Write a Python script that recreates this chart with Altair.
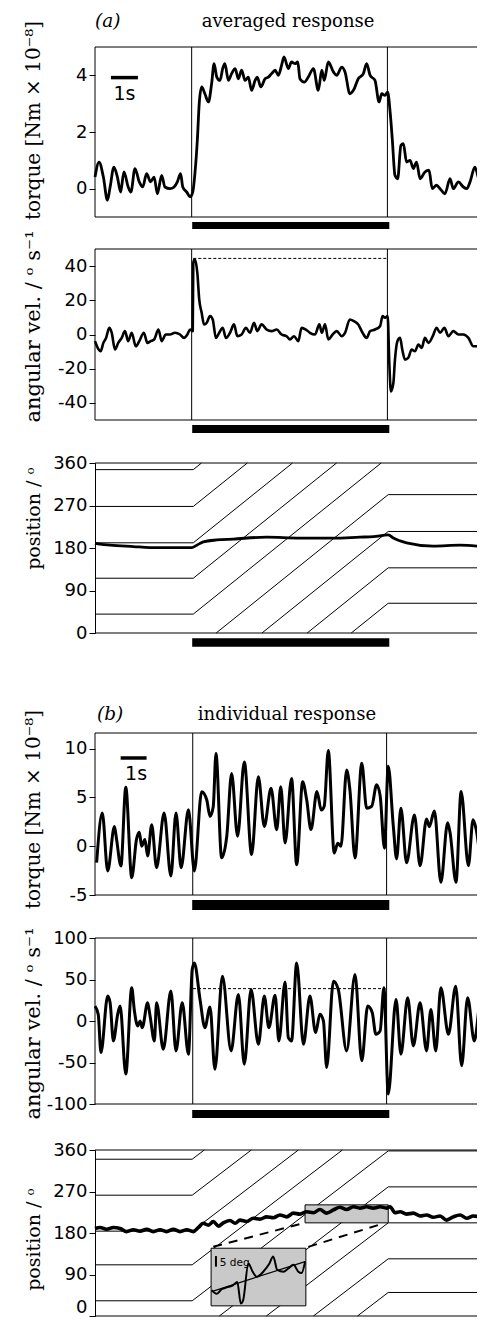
import altair as alt
import pandas as pd

# ---------------- data ----------------
# time in seconds (1 s scale bar), values in panel units
A_STIM = [3.58, 10.83]          # stimulus on / off (vertical lines), panel (a)
B_STIM = [3.62, 10.80]          # panel (b)
STIM_BAR = [3.60, 10.90]        # black bar under each panel

A_TORQUE = [
    (0.00, 0.41), (0.15, 0.94), (0.31, 0.41), (0.46, -0.41), (0.56, 0.06), (0.70, 0.76),
    (0.83, 0.41), (0.95, -0.12), (1.07, 0.59), (1.23, 0.06), (1.33, -0.12), (1.48, 0.71),
    (1.64, 0.24), (1.77, 0.06), (1.91, 0.53), (2.06, 0.24), (2.19, 0.41), (2.31, -0.18),
    (2.47, 0.47), (2.59, 0.06), (2.78, 0.00), (2.93, 0.06), (3.05, 0.24), (3.17, 0.53),
    (3.25, 0.06), (3.40, -0.12), (3.52, -0.29), (3.62, -0.12), (3.70, 0.53), (3.79, 1.71),
    (3.86, 3.00), (3.95, 3.59), (4.07, 3.35), (4.20, 3.06), (4.32, 3.71), (4.41, 4.41),
    (4.51, 3.94), (4.63, 3.82), (4.73, 4.24), (4.81, 4.41), (4.94, 3.82), (5.06, 4.06),
    (5.19, 4.24), (5.31, 3.88), (5.43, 4.18), (5.56, 3.82), (5.68, 3.94), (5.80, 3.47),
    (5.93, 3.82), (6.01, 3.94), (6.14, 3.59), (6.30, 3.88), (6.42, 3.94), (6.54, 4.06),
    (6.67, 4.18), (6.79, 4.00), (6.91, 4.35), (7.00, 4.65), (7.16, 4.24), (7.28, 4.47),
    (7.41, 4.41), (7.51, 4.47), (7.59, 3.88), (7.75, 3.76), (7.90, 3.94), (8.09, 4.24),
    (8.27, 3.47), (8.40, 4.18), (8.49, 3.82), (8.64, 4.47), (8.83, 4.12), (8.95, 4.00),
    (9.14, 4.29), (9.26, 4.12), (9.44, 3.35), (9.57, 3.47), (9.75, 3.88), (9.94, 4.06),
    (10.06, 4.41), (10.19, 4.00), (10.37, 3.82), (10.52, 3.06), (10.62, 3.35), (10.74, 3.29),
    (10.84, 3.41), (10.93, 2.71), (11.01, 1.76), (11.11, 0.47), (11.21, 0.35), (11.33, 1.53),
    (11.42, 1.59), (11.54, 0.94), (11.67, 1.00), (11.79, 0.71), (11.91, 0.94), (12.04, 0.35),
    (12.22, 0.59), (12.37, 0.65), (12.49, 0.00), (12.65, 0.12), (12.78, 0.00), (12.96, -0.18),
    (13.15, 0.35), (13.27, 0.00), (13.46, 0.24), (13.64, 0.06), (13.77, 0.00), (13.89, 0.24),
    (14.07, 0.76), (14.26, 0.24), (14.40, 0.35),
]

A_VEL = [
    (0.00, -3.9), (0.10, -7.8), (0.21, -9.8), (0.31, -4.9), (0.41, -2.0), (0.53, 3.9),
    (0.62, 1.0), (0.74, -8.8), (0.86, -4.9), (0.99, -2.0), (1.11, 2.0), (1.23, -3.9),
    (1.36, 1.0), (1.51, -6.9), (1.64, -3.9), (1.81, 1.0), (1.94, -4.9), (2.06, -3.9),
    (2.19, -2.9), (2.35, 2.9), (2.47, -3.9), (2.62, 0.0), (2.78, 0.0), (2.96, 1.0),
    (3.15, 0.0), (3.30, -2.0), (3.42, 0.0), (3.52, 2.9), (3.62, 2.0), (3.64, 42.0),
    (3.70, 44.0), (3.79, 36.0), (3.86, 20.6), (3.95, 12.7), (4.04, 5.9), (4.14, 6.9),
    (4.26, 10.8), (4.36, 8.8), (4.48, -2.0), (4.60, 1.0), (4.73, 3.9), (4.85, -2.0),
    (5.00, 1.0), (5.15, 5.9), (5.27, -1.0), (5.43, 0.0), (5.59, 3.9), (5.74, 1.0),
    (5.89, 6.9), (6.01, 2.0), (6.17, 5.9), (6.36, 2.9), (6.54, 2.0), (6.73, 2.9),
    (6.91, 0.0), (7.10, -1.0), (7.22, -2.9), (7.37, -1.0), (7.53, -3.9), (7.65, 3.9),
    (7.81, 2.9), (7.96, 1.0), (8.15, 0.0), (8.31, 5.9), (8.40, 1.0), (8.52, 5.9),
    (8.64, -2.9), (8.80, 0.0), (8.95, 2.0), (9.14, -1.0), (9.26, 1.0), (9.44, 8.8),
    (9.59, 7.8), (9.75, 5.9), (9.91, 1.0), (10.06, -2.0), (10.19, 2.0), (10.37, 2.9),
    (10.56, 4.9), (10.65, 10.8), (10.74, 9.8), (10.84, 10.8), (10.90, -16.7), (10.96, -33.3),
    (11.05, -28.4), (11.11, -14.7), (11.20, -3.9), (11.30, -2.0), (11.38, -8.8), (11.48, -14.7),
    (11.60, -13.7), (11.73, -8.8), (11.85, -9.8), (11.98, -5.9), (12.10, -7.8), (12.22, -2.0),
    (12.35, -4.9), (12.51, -1.0), (12.65, 3.9), (12.78, 1.0), (12.94, 3.9), (13.09, -1.0),
    (13.27, 2.0), (13.46, 0.0), (13.64, 0.0), (13.83, -2.0), (14.01, -6.9), (14.20, -6.9),
    (14.38, -1.0),
]
A_VEL_DASH = (3.64, 10.80, 44.5)

A_POS = [
    (0.00, 190), (0.56, 186), (1.42, 183), (2.04, 181), (2.90, 181), (3.58, 181),
    (3.77, 186), (4.01, 193), (4.51, 197), (5.12, 199), (6.36, 203), (7.59, 201),
    (8.83, 201), (9.81, 203), (10.31, 204), (10.86, 208), (11.05, 201), (11.54, 191),
    (12.53, 184), (13.52, 186), (14.38, 183),
]

B_TORQUE = [
    (0.06, -1.69), (0.27, 3.39), (0.47, -2.53), (0.72, 2.03), (0.80, 0.68), (0.96, -2.03),
    (1.14, 6.03), (1.36, -3.22), (1.54, 0.75), (1.64, 1.42), (1.73, 0.00), (1.85, 0.68),
    (1.95, -1.00), (2.10, 2.20), (2.28, -2.20), (2.56, 3.39), (2.81, -3.05), (3.00, 3.39),
    (3.19, -2.20), (3.46, 3.73), (3.68, -2.53), (3.95, 5.59), (4.14, 4.74), (4.26, 3.05),
    (4.38, 4.07), (4.48, 9.49), (4.69, -1.19), (4.88, 1.02), (5.06, 7.45), (5.28, 1.02),
    (5.53, 8.64), (5.80, -0.85), (6.05, 7.11), (6.27, 2.03), (6.52, 5.93), (6.73, 1.69),
    (6.88, 6.10), (7.04, 0.34), (7.28, 6.95), (7.47, -1.90), (7.69, 6.60), (7.84, 4.75),
    (8.00, 1.70), (8.22, 5.60), (8.38, 3.70), (8.49, 4.10), (8.64, 9.80), (8.86, -0.70),
    (8.99, 0.30), (9.11, 0.00), (9.32, 7.80), (9.44, 5.80), (9.63, -1.20), (9.88, 8.50),
    (10.06, 3.90), (10.25, 4.10), (10.43, 6.30), (10.56, 5.20), (10.72, -0.20), (10.86, 8.20),
    (11.05, 2.00), (11.17, -1.30), (11.33, 3.90), (11.54, -1.70), (11.83, 3.20), (12.04, -2.00),
    (12.28, 2.80), (12.38, 2.00), (12.57, 3.60), (12.81, -3.70), (13.06, 2.40), (13.15, 1.40),
    (13.37, -3.70), (13.56, 5.60), (13.83, -2.00), (14.00, 2.70), (14.12, 1.70), (14.32, -2.00),
    (14.40, -2.30),
]

B_VEL = [
    (0.00, 18), (0.12, 8), (0.22, -38), (0.47, 30), (0.56, 22), (0.68, -24), (0.84, 8),
    (0.93, 18), (1.14, -64), (1.36, 40), (1.46, 12), (1.58, -6), (1.67, 0), (1.75, -8),
    (1.95, 22), (2.04, 6), (2.20, -24), (2.28, 22), (2.53, -34), (2.81, 36), (3.00, -36),
    (3.23, 22), (3.46, -40), (3.60, 62), (3.68, 70), (3.89, 26), (4.07, -8), (4.26, 17),
    (4.44, -58), (4.72, 54), (5.04, -36), (5.31, 32), (5.53, -52), (5.78, 38), (6.05, -28),
    (6.27, 30), (6.44, -8), (6.67, 31), (6.81, -24), (7.04, 47), (7.16, -20), (7.28, -24),
    (7.47, 70), (7.72, -28), (7.96, 30), (8.17, -14), (8.33, 8), (8.46, 0), (8.58, -56),
    (8.83, 48), (9.01, 38), (9.32, -36), (9.63, 56), (9.88, -48), (10.10, 18), (10.27, 10),
    (10.40, -16), (10.56, -12), (10.70, 40), (10.86, -88), (11.15, 26), (11.33, -40),
    (11.58, 28), (11.79, -30), (12.04, 22), (12.28, -36), (12.44, 14), (12.62, -36),
    (12.81, 40), (13.09, -16), (13.36, 42), (13.58, -54), (13.80, 28), (14.05, -24),
    (14.29, 26), (14.40, 18),
]
B_VEL_DASH = (3.63, 10.76, 39)

B_POS = [
    (0.00, 190), (0.19, 192), (0.43, 188), (0.68, 192), (0.93, 190), (1.17, 183),
    (1.42, 187), (1.67, 184), (1.91, 188), (2.16, 183), (2.41, 187), (2.65, 183),
    (2.90, 188), (3.15, 183), (3.40, 187), (3.64, 183), (3.83, 192), (4.01, 201),
    (4.20, 197), (4.38, 205), (4.57, 195), (4.75, 202), (5.00, 207), (5.19, 201),
    (5.37, 208), (5.62, 205), (5.86, 212), (6.11, 210), (6.36, 215), (6.60, 213),
    (6.85, 219), (7.10, 215), (7.35, 223), (7.59, 221), (7.84, 226), (8.09, 224),
    (8.33, 231), (8.58, 223), (8.83, 230), (9.07, 236), (9.32, 231), (9.57, 237),
    (9.81, 234), (10.06, 237), (10.31, 234), (10.56, 237), (10.80, 234), (10.93, 237),
    (11.11, 224), (11.30, 226), (11.54, 221), (11.79, 223), (12.04, 217), (12.28, 219),
    (12.53, 214), (12.78, 217), (13.02, 208), (13.27, 215), (13.52, 219), (13.77, 212),
    (14.01, 217), (14.38, 212),
]

# pattern stripes (position before the stimulus, total displacement, wrap period)
A_STRIPES_PRE = [40, 116, 191, 268, 346]
A_STRIPE_SHIFT = 332
A_STRIPE_T = [3.64, 10.86]
B_STRIPES_PRE = [33, 111, 184, 262, 340]
B_STRIPE_SHIFT = 325
B_STRIPE_T = [3.60, 10.86]
STRIPE_PERIOD = 385

# magnified inset in (b) position panel
ZOOM_BOX = (7.78, 10.86, 202, 241)        # t0, t1, deg0, deg1
INSET_BOX = (4.30, 7.81, 22, 147)
INSET_LINKS = [((7.70, 201), (4.38, 150)), ((10.70, 201), (7.90, 150))]
INSET_TRACE = [
    (4.32, 56), (4.51, 48), (4.69, 58), (4.88, 62), (5.12, 67), (5.27, 74), (5.40, 27),
    (5.49, 35), (5.68, 114), (5.84, 96), (5.99, 85), (6.23, 96), (6.46, 114), (6.60, 129),
    (6.75, 100), (6.98, 96), (7.16, 103), (7.35, 111), (7.53, 96), (7.65, 93), (7.78, 118),
]
INSET_FIT = [(4.32, 53), (7.78, 118)]

# ---------------- layout / style ----------------
T_MAX = 14.4            # recorded span (the figure is cropped on the right)
PX_PER_S = 27
VIEW_W = 382            # keeps the page inside the 485px window
T_VIEW = VIEW_W / PX_PER_S
SERIF = "DejaVu Serif, serif"
SANS = "DejaVu Sans, sans-serif"
TITLE_X = -52

PANELS = {
    "a1": dict(domain=[-1, 5], range=[209, 39], ticks=[0, 2, 4], tsize=20,
               title="torque [Nm × 10⁻⁸]", title_y=112, bar=[-1.18, -1.42], framed=True),
    "a2": dict(domain=[-50, 50], range=[412, 241], ticks=[-40, -20, 0, 20, 40], tsize=21,
               title="angular vel. / ᵒ s⁻¹", title_y=318, bar=[-52.9, -57.6], framed=True),
    "a3": dict(domain=[0, 360], range=[625, 455], ticks=[0, 90, 180, 270, 360], tsize=19,
               title="position / ᵒ", title_y=510, bar=[-11.0, -29.0], framed=False),
    "b1": dict(domain=[-5, 11.6], range=[887, 725], ticks=[-5, 0, 5, 10], tsize=20,
               title="torque [Nm × 10⁻⁸]", title_y=801, bar=[-5.51, -6.54], framed=True),
    "b2": dict(domain=[-100, 100], range=[1096, 930], ticks=[-100, -50, 0, 50, 100], tsize=21,
               title="angular vel. / ᵒ s⁻¹", title_y=1015, bar=[-107.2, -116.9], framed=True),
    "b3": dict(domain=[0, 360], range=[1308, 1142], ticks=[0, 90, 180, 270, 360], tsize=19,
               title="position / ᵒ", title_y=1231, bar=[-8.7, -30.0], framed=False,
               lift_zero=True),
}

XS = alt.Scale(domain=[0, T_VIEW], nice=False, zero=False)


def X(field="t"):
    return alt.X(f"{field}:Q", scale=XS, axis=None)


def Y(p, field="y"):
    baseline = "middle"
    if p.get("lift_zero"):
        # bottom label sits at the window edge: keep it above the edge
        baseline = {"condition": {"test": "datum.value === 0", "value": "bottom"},
                    "value": "middle"}
    ax = alt.Axis(
        orient="left", values=p["ticks"], title=p["title"], grid=False,
        titleX=TITLE_X, titleY=p["title_y"], titleBaseline="bottom", titleAngle=270,
        titleFont=SERIF, titleFontSize=p["tsize"], titleFontWeight="normal", titleColor="black",
        labelFont=SANS, labelFontSize=18, labelColor="black", labelPadding=2,
        labelBaseline=baseline,
        labelExpr="'' + datum.value", tickSize=6, tickColor="black", tickWidth=1,
        domain=not p["framed"], domainColor="black", domainWidth=1,
    )
    return alt.Y(f"{field}:Q", scale=alt.Scale(domain=p["domain"], range=p["range"],
                                              nice=False, zero=False), axis=ax)


def pts(rows):
    return pd.DataFrame(rows, columns=["t", "y"])


def trace(p, rows, width, interp="monotone"):
    return alt.Chart(pts(rows)).mark_line(color="black", strokeWidth=width, interpolate=interp,
                                          strokeJoin="round").encode(x=X(), y=Y(p))


def frame(p):
    d = pd.DataFrame({"t": [0], "t2": [T_MAX], "y": [p["domain"][0]], "y2": [p["domain"][1]]})
    return alt.Chart(d).mark_rect(filled=False, color="black", strokeWidth=1).encode(
        x=X(), x2=alt.X2("t2:Q"), y=Y(p), y2=alt.Y2("y2:Q"))


def stim_lines(p, stim):
    d = pd.DataFrame({"t": stim, "y": [p["domain"][0]] * 2, "y2": [p["domain"][1]] * 2})
    return alt.Chart(d).mark_rule(color="black", strokeWidth=1).encode(
        x=X(), y=Y(p), y2=alt.Y2("y2:Q"))


def stim_bar(p):
    d = pd.DataFrame({"t": [STIM_BAR[0]], "t2": [STIM_BAR[1]],
                      "y": [p["bar"][0]], "y2": [p["bar"][1]]})
    return alt.Chart(d).mark_rect(color="black").encode(
        x=X(), x2=alt.X2("t2:Q"), y=Y(p), y2=alt.Y2("y2:Q"))


def hline(p, t0, t1, val, width=1, dash=None):
    d = pd.DataFrame({"t": [t0], "t2": [t1], "y": [val]})
    kw = dict(color="black", strokeWidth=width)
    if dash:
        kw["strokeDash"] = dash
    return alt.Chart(d).mark_rule(**kw).encode(x=X(), x2=alt.X2("t2:Q"), y=Y(p))


def text(p, t, val, label, font, size, align="center", style="normal"):
    d = pd.DataFrame({"t": [t], "y": [val], "label": [label]})
    return alt.Chart(d).mark_text(font=font, fontSize=size, align=align, baseline="alphabetic",
                                  color="black", fontStyle=style).encode(
        x=X(), y=Y(p), text="label:N")


def stripes(p, pre, shift, t_on_off, top=360):
    t_on, t_off = t_on_off
    v = shift / (t_off - t_on)
    rows, sid = [], 0

    def emit(seg):
        nonlocal sid
        for (tt, yy) in seg:
            rows.append((sid, tt, yy))
        sid += 1

    for p0 in pre:
        p_final = p0 + shift
        k = 0
        cur = [(0.0, p0), (t_on, p0)]
        while True:
            exit_p = k * STRIPE_PERIOD + top
            wrap_p = (k + 1) * STRIPE_PERIOD
            if p_final <= exit_p:
                cur += [(t_off, p_final - k * STRIPE_PERIOD), (T_MAX, p_final - k * STRIPE_PERIOD)]
                emit(cur)
                break
            cur.append((t_on + (exit_p - p0) / v, top))
            emit(cur)
            if p_final <= wrap_p:
                break
            k += 1
            cur = [(t_on + (wrap_p - p0) / v, 0)]
    d = pd.DataFrame(rows, columns=["seg", "t", "y"])
    return alt.Chart(d).mark_line(color="black", strokeWidth=1).encode(
        x=X(), y=Y(p), detail="seg:N", order="t:Q")


def box(p, b, fill):
    d = pd.DataFrame({"t": [b[0]], "t2": [b[1]], "y": [b[2]], "y2": [b[3]]})
    return alt.Chart(d).mark_rect(fill=fill, stroke="black", strokeWidth=1).encode(
        x=X(), x2=alt.X2("t2:Q"), y=Y(p), y2=alt.Y2("y2:Q"))


def link_lines(p, links):
    rows = []
    for i, (a, b) in enumerate(links):
        rows += [(i, a[0], a[1]), (i, b[0], b[1])]
    d = pd.DataFrame(rows, columns=["seg", "t", "y"])
    return alt.Chart(d).mark_line(color="black", strokeWidth=2, strokeDash=[9, 7]).encode(
        x=X(), y=Y(p), detail="seg:N")


def vbar(p, t, y0, y1, width):
    d = pd.DataFrame({"t": [t], "y": [y0], "y2": [y1]})
    return alt.Chart(d).mark_rule(color="black", strokeWidth=width).encode(
        x=X(), y=Y(p), y2=alt.Y2("y2:Q"))


P = PANELS
a1 = alt.layer(
    frame(P["a1"]), stim_lines(P["a1"], A_STIM), stim_bar(P["a1"]),
    hline(P["a1"], 0.59, 1.59, 3.92, width=3.5),
    text(P["a1"], 1.09, 3.13, "1s", SANS, 19),
    text(P["a1"], 0.47, 5.72, "(a)", SERIF, 18.5, style="italic"),
    text(P["a1"], 7.15, 5.72, "averaged response", SERIF, 18),
    trace(P["a1"], A_TORQUE, 2.8),
)
a2 = alt.layer(
    frame(P["a2"]), stim_lines(P["a2"], A_STIM), stim_bar(P["a2"]),
    hline(P["a2"], A_VEL_DASH[0], A_VEL_DASH[1], A_VEL_DASH[2], dash=[3, 2]),
    trace(P["a2"], A_VEL, 2.6),
)
a3 = alt.layer(
    hline(P["a3"], 0, T_MAX, 360), hline(P["a3"], 0, T_MAX, 0),
    stripes(P["a3"], A_STRIPES_PRE, A_STRIPE_SHIFT, A_STRIPE_T),
    stim_bar(P["a3"]),
    trace(P["a3"], A_POS, 2.8),
)
b1 = alt.layer(
    frame(P["b1"]), stim_lines(P["b1"], B_STIM), stim_bar(P["b1"]),
    hline(P["b1"], 0.95, 1.91, 9.04, width=3.5),
    text(P["b1"], 1.52, 6.78, "1s", SANS, 19),
    text(P["b1"], 0.56, 12.93, "(b)", SERIF, 18.5, style="italic"),
    text(P["b1"], 7.11, 12.93, "individual response", SERIF, 18),
    trace(P["b1"], B_TORQUE, 3.0),
)
b2 = alt.layer(
    frame(P["b2"]), stim_lines(P["b2"], B_STIM), stim_bar(P["b2"]),
    hline(P["b2"], B_VEL_DASH[0], B_VEL_DASH[1], B_VEL_DASH[2], dash=[3, 2]),
    trace(P["b2"], B_VEL, 3.0),
)
b3 = alt.layer(
    hline(P["b3"], 0, T_MAX, 360), hline(P["b3"], 0, T_MAX, 0),
    stripes(P["b3"], B_STRIPES_PRE, B_STRIPE_SHIFT, B_STRIPE_T),
    stim_bar(P["b3"]),
    box(P["b3"], ZOOM_BOX, "#c9c9c9"),
    trace(P["b3"], B_POS, 3.6),
    link_lines(P["b3"], INSET_LINKS),
    box(P["b3"], INSET_BOX, "#c9c9c9"),
    alt.Chart(pts(INSET_FIT)).mark_line(color="black", strokeWidth=1.2).encode(x=X(), y=Y(P["b3"])),
    trace(P["b3"], INSET_TRACE, 2.0),
    vbar(P["b3"], 4.48, 107, 130, 2),
    text(P["b3"], 4.62, 108, "5 deg", SANS, 10.5, align="left"),
)

# the page adds an 8px margin on every side: keep the view inside the 485x1325 window
chart = alt.layer(a1, a2, a3, b1, b2, b3).resolve_scale(y="independent").properties(
    width=VIEW_W, height=1309,
    autosize=alt.AutoSizeParams(type="none"),
    padding={"left": 87, "top": 0, "right": 0, "bottom": 0},
).configure_view(stroke="transparent")

chart.save("out.html", embed_options={"renderer": "svg", "actions": False})
